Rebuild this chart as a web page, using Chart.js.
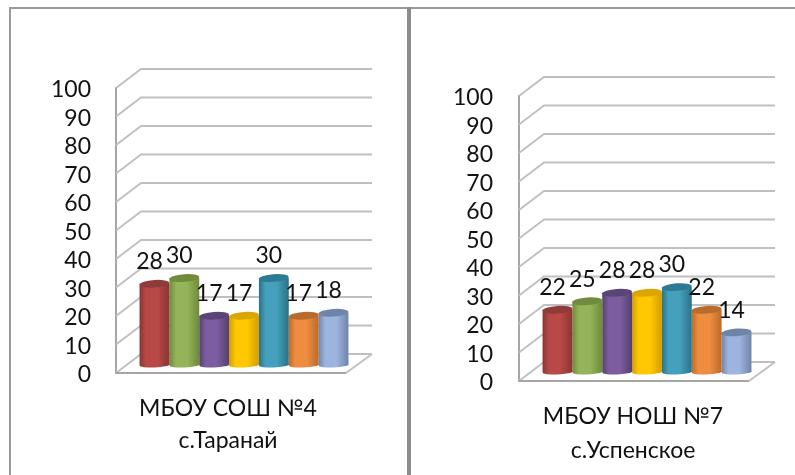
<!DOCTYPE html>
<html><head><meta charset="utf-8">
<script src="https://cdn.jsdelivr.net/npm/chart.js@4"></script>
<style>
html,body{margin:0;padding:0;background:#fff;width:795px;height:475px;overflow:hidden}
.line{position:absolute;background:#9a9a9a}
canvas{position:absolute;top:0}
</style></head><body>
<div class="line" style="left:9px;top:7px;width:786px;height:2px"></div>
<div class="line" style="left:9px;top:7px;width:2px;height:468px"></div>
<div class="line" style="left:407px;top:7px;width:4px;height:468px;background:#8c8c8c"></div>
<div style="position:absolute;left:0;top:0;width:405px;height:475px"><canvas id="c1"></canvas></div>
<div style="position:absolute;left:412px;top:0;width:383px;height:475px"><canvas id="c2"></canvas></div>
<script>
const seriesNames = ['Ряд 1','Ряд 2','Ряд 3','Ряд 4','Ряд 5','Ряд 6','Ряд 7'];
const categoryLeft = ['МБОУ СОШ №4','с.Таранай'];
const categoryRight = ['МБОУ НОШ №7','с.Успенское'];
const valuesLeft = [28,30,17,17,30,17,18];
const valuesRight = [22,25,28,28,30,22,14];
const fontFamily = 'Lato, "Open Sans", sans-serif';
const fontSize = 23;
const palette = [
  {edge:'#8a3432',mid:'#b74a47',top:'#8f3b39'},
  {edge:'#6f8a3c',mid:'#95b358',top:'#708b3e'},
  {edge:'#54406e',mid:'#7c5da0',top:'#5b4578'},
  {edge:'#d49d00',mid:'#ffc800',top:'#dba600'},
  {edge:'#2b7288',mid:'#44a0bc',top:'#2c7a93'},
  {edge:'#bc6a2a',mid:'#ee8d40',top:'#b96b2c'},
  {edge:'#6f84a8',mid:'#9db4de',top:'#6e85a8'}
];
const depth3d = {dx:25, dy:19};

const cylinder3d = {
  id:'cylinder3d',
  beforeDatasetsDraw(chart){
    const c = chart.ctx, y = chart.scales.y, a = chart.chartArea;
    const dx = depth3d.dx, dy = depth3d.dy;
    c.save();
    c.strokeStyle = '#c0c0c0'; c.lineWidth = 2; c.lineCap='butt';
    y.ticks.forEach(t => {
      const p = y.getPixelForValue(t.value);
      c.beginPath(); c.moveTo(a.left, p); c.lineTo(a.left+dx, p-dy); c.lineTo(a.right, p-dy); c.stroke();
    });
    const p0 = y.getPixelForValue(0);
    c.beginPath(); c.moveTo(a.right-dx-1, p0); c.lineTo(a.right, p0-dy); c.stroke();
    c.strokeStyle = '#a6a6a6';
    c.beginPath(); c.moveTo(a.left, p0); c.lineTo(a.right-dx-1, p0); c.stroke();
    c.restore();
  },
  beforeDatasetDraw(chart, args){
    const c = chart.ctx, meta = args.meta, col = palette[args.index];
    meta.data.forEach(el => {
      const w = el.width, l = el.x-w/2;
      const g = c.createLinearGradient(l,0,l+w,0);
      g.addColorStop(0,col.edge); g.addColorStop(.22,col.mid); g.addColorStop(.6,col.mid); g.addColorStop(1,col.edge);
      el.options = Object.assign({}, el.options, {backgroundColor:g, borderWidth:0});
      c.save(); c.fillStyle = g;
      c.beginPath(); c.ellipse(el.x, el.base, w/2, 2.5, -0.04, 0, Math.PI*2); c.fill();
      c.restore();
    });
  },
  afterDatasetDraw(chart, args){
    const c = chart.ctx, col = palette[args.index];
    args.meta.data.forEach(el => {
      c.save(); c.fillStyle = col.top;
      c.beginPath(); c.ellipse(el.x, el.y, el.width/2, 3.8, -0.07, 0, Math.PI*2); c.fill();
      c.restore();
    });
  },
  afterDatasetsDraw(chart){
    const c = chart.ctx;
    c.save();
    c.font = fontSize+'px '+fontFamily; c.fillStyle = '#111'; c.textAlign='center'; c.textBaseline='middle';
    chart.data.datasets.forEach((ds,i) => {
      chart.getDatasetMeta(i).data.forEach((el,j) => {
        c.fillText(String(ds.data[j]), el.x-5, el.y-22);
      });
    });
    c.restore();
  }
};

function build(id, category, values, o){
  new Chart(document.getElementById(id), {
    type:'bar',
    data:{
      labels:[category],
      datasets:values.map((v,i)=>({label:seriesNames[i], data:[v], yAxisID:'yBar', backgroundColor:palette[i].mid}))
    },
    plugins:[cylinder3d],
    options:{
      responsive:true, maintainAspectRatio:false, animation:false,
      layout:{padding:{left:0,top:o.top,right:o.right,bottom:0}},
      datasets:{bar:{categoryPercentage:o.cat, barPercentage:1}},
      plugins:{legend:{display:false},tooltip:{enabled:false},title:{display:false}},
      scales:{
        x:{
          grid:{display:false}, border:{display:false},
          afterFit(s){s.height = o.bottom;},
          ticks:{color:'#111',font:{family:fontFamily,size:fontSize,lineHeight:o.lh},padding:o.xpad,labelOffset:o.lo,maxRotation:0,autoSkip:false}
        },
        y:{
          min:0,max:100,position:'left',
          grid:{display:false,drawTicks:false},
          border:{display:true,color:'#a6a6a6',width:2},
          afterFit(s){s.width = o.left;},
          ticks:{stepSize:10,autoSkip:false,color:'#111',font:{family:fontFamily,size:fontSize},padding:o.ypad,labelOffset:2}
        },
        yBar:{display:false,min:o.bmin,max:o.bmax}
      }
    }
  });
}
build('c1', categoryLeft, valuesLeft, {top:88,right:33,bottom:102,left:116,cat:0.816,lh:1.4,xpad:11,lo:-16,ypad:25,bmin:-2.76,bmax:95.52});
build('c2', categoryRight, valuesRight, {top:96,right:20,bottom:94,left:107,cat:0.816,lh:1.5,xpad:10,lo:-14,ypad:26,bmin:-3.18,bmax:97.5});
</script>
</body></html>
